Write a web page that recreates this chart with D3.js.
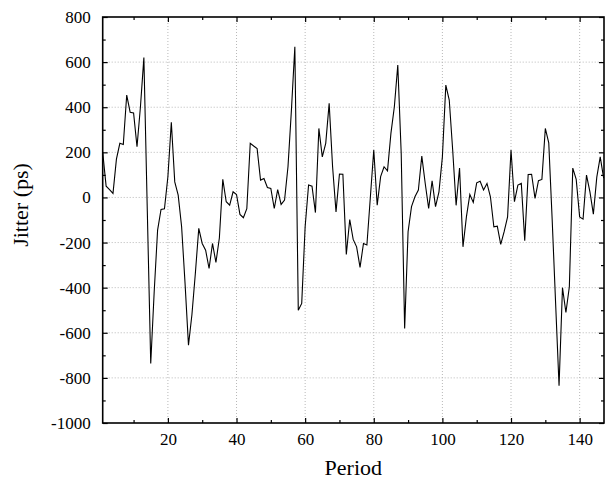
<!DOCTYPE html>
<html>
<head>
<meta charset="utf-8">
<script src="https://cdn.jsdelivr.net/npm/d3@7"></script>
<style>
  body { margin: 0; background: #fff; }
</style>
</head>
<body>
<svg width="605" height="482"></svg>
<script>
// jitter per period
var jitter = [200, 50, 35, 18, 170, 240, 235, 454, 378, 375,
  225, 402, 620, -60, -736, -420, -145, -53, -50, 92,
  333, 69, 10, -130, -381, -655, -520, -337, -137, -204,
  -234, -315, -204, -288, -180, 80, -19, -34, 25, 13,
  -75, -90, -50, 240, 228, 217, 77, 84, 44, 40,
  -49, 35, -31, -12, 136, 387, 668, -500, -470, -130,
  55, 50, -67, 306, 180, 240, 417, 136, -64, 104,
  103, -253, -98, -186, -219, -310, -204, -211, 0, 210,
  -34, 92, 136, 118, 284, 402, 587, 195, -581, -152,
  -41, 3, 33, 183, 62, -49, 74, -41, 25, 180,
  498, 432, 210, -35, 130, -219, -86, 13, -22, 65,
  72, 33, 62, 3, -130, -127, -208, -152, -86, 210,
  -19, 55, 62, -192, 102, 103, -4, 74, 80, 306,
  242, -100, -470, -835, -400, -510, -396, 130, 80, -86,
  -96, 99, 25, -74, 90, 180, 85];
var periods = jitter.map(function(d, i) { return i + 1; });

var xTicks = [20, 40, 60, 80, 100, 120, 140];
var xMinor = [10, 30, 50, 70, 90, 110, 130];
var yTicks = [-1000, -800, -600, -400, -200, 0, 200, 400, 600, 800];
var yMinor = [-900, -700, -500, -300, -100, 100, 300, 500, 700];

var font = "'Liberation Serif', 'Times New Roman', serif";
var svg = d3.select("svg");
// plot box (window.top is taken, so own names)
var pLeft = 102.7, pRight = 604, pTop = 17, pBottom = 423;

var x = d3.scaleLinear().domain([1, 147.1]).range([pLeft, pRight]);
var y = d3.scaleLinear().domain([-1000, 800]).range([pBottom, pTop]);

// dotted grid
var grid = svg.append("g").attr("stroke", "#b8b8b8").attr("stroke-width", 1).attr("stroke-dasharray", "1,2");
grid.selectAll(".gx").data(xTicks).enter().append("line")
  .attr("x1", function(d) { return x(d); }).attr("x2", function(d) { return x(d); })
  .attr("y1", pTop).attr("y2", pBottom);
grid.selectAll(".gy").data(yTicks.slice(1, -1)).enter().append("line")
  .attr("x1", pLeft).attr("x2", pRight)
  .attr("y1", function(d) { return y(d); }).attr("y2", function(d) { return y(d); });

// the series
var line = d3.line()
  .x(function(d, i) { return x(periods[i]); })
  .y(function(d) { return y(d); });

svg.append("defs").append("clipPath").attr("id", "clip")
  .append("rect").attr("x", pLeft).attr("y", pTop).attr("width", pRight - pLeft).attr("height", pBottom - pTop);

svg.append("path")
  .datum(jitter)
  .attr("clip-path", "url(#clip)")
  .attr("fill", "none")
  .attr("stroke", "#000")
  .attr("stroke-width", 1.1)
  .attr("d", line);

// axes, ticks point inward
function styleAxis(g) {
  g.select(".domain").remove();
  g.selectAll("line").attr("stroke", "#000").attr("stroke-width", 1.2);
  g.selectAll("text")
    .style("font-family", font)
    .style("font-size", "17px")
    .style("fill", "#000");
}
var plain = function(d) { return String(d); };

svg.append("g").attr("transform", "translate(0," + pBottom + ")")
  .call(d3.axisBottom(x).tickValues(xTicks).tickSize(-5).tickPadding(10).tickFormat(plain))
  .call(styleAxis);
svg.append("g").attr("transform", "translate(0," + pBottom + ")")
  .call(d3.axisBottom(x).tickValues(xMinor).tickSize(-3).tickFormat(""))
  .call(styleAxis);
svg.append("g").attr("transform", "translate(0," + pTop + ")")
  .call(d3.axisTop(x).tickValues(xTicks).tickSize(-5).tickFormat(""))
  .call(styleAxis);
svg.append("g").attr("transform", "translate(0," + pTop + ")")
  .call(d3.axisTop(x).tickValues(xMinor).tickSize(-3).tickFormat(""))
  .call(styleAxis);

svg.append("g").attr("transform", "translate(" + pLeft + ",0)")
  .call(d3.axisLeft(y).tickValues(yTicks).tickSize(-5).tickPadding(12).tickFormat(plain))
  .call(styleAxis);
svg.append("g").attr("transform", "translate(" + pLeft + ",0)")
  .call(d3.axisLeft(y).tickValues(yMinor).tickSize(-3).tickFormat(""))
  .call(styleAxis);
svg.append("g").attr("transform", "translate(" + pRight + ",0)")
  .call(d3.axisRight(y).tickValues(yTicks).tickSize(-5).tickFormat(""))
  .call(styleAxis);
svg.append("g").attr("transform", "translate(" + pRight + ",0)")
  .call(d3.axisRight(y).tickValues(yMinor).tickSize(-3).tickFormat(""))
  .call(styleAxis);

// frame
svg.append("rect")
  .attr("x", pLeft).attr("y", pTop)
  .attr("width", pRight - pLeft).attr("height", pBottom - pTop)
  .attr("fill", "none").attr("stroke", "#000").attr("stroke-width", 1.6);

// titles
svg.append("text")
  .attr("x", (pLeft + pRight) / 2).attr("y", 475)
  .attr("text-anchor", "middle")
  .style("font-family", font)
  .style("font-size", "22px")
  .text("Period");

svg.append("text")
  .attr("transform", "translate(28,205) rotate(-90)")
  .attr("text-anchor", "middle")
  .style("font-family", font)
  .style("font-size", "22px")
  .text("Jitter (ps)");
</script>
</body>
</html>
